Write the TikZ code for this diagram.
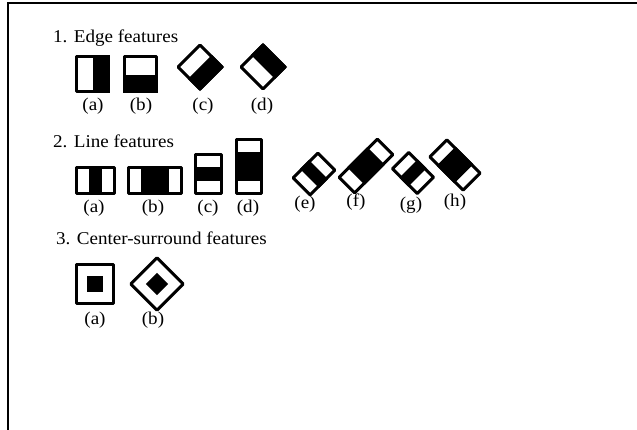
\documentclass[tikz,border=0pt]{standalone}
\usepackage{fontspec}
\setmainfont{Liberation Serif}[FakeStretch=1.06]
\newcommand\hfeat[6]{%
 \begin{scope}[shift={(#1,#2)},rotate=#3]
  \pgfmathsetmacro\hw{#4-1.5}\pgfmathsetmacro\hh{#5-1.5}
  \fill[white] (-#4,-#5) rectangle (#4,#5);
  #6
  \draw[outline] (-\hw,-\hh) rectangle (\hw,\hh);
 \end{scope}}
\begin{document}
\begin{tikzpicture}[x=1pt,y=-1pt,
  title/.style={anchor=base west,inner sep=0pt,font=\fontsize{18}{21}\selectfont},
  lab/.style={anchor=base,inner sep=0pt,font=\fontsize{18}{21}\selectfont},
  outline/.style={draw=black,line width=3pt,line join=round},
]
\useasboundingbox (0,0) rectangle (637,430);
\draw[line width=2.4pt] (7.8,430) -- (7.8,2.8) -- (637,2.8);

% titles
\node[title] (t1) at (53,43) {1. Edge features};
\node[title] (t2) at (53,148) {2. Line features};
\node[title] (t3) at (56,245) {3. Center-surround features};

% edge features
\hfeat{92.5}{74}{0}{17.5}{19}{\fill (0,-19) rectangle (17.5,19);}
\hfeat{140.5}{74}{0}{17.5}{19}{\fill (-17.5,1) rectangle (17.5,19);}
\hfeat{200}{67}{45}{17}{17}{\fill (-17,0) rectangle (17,17);}
\hfeat{263}{67}{45}{17}{17}{\fill (0,-17) rectangle (17,17);}
\node[lab] (ea) at (93,111) {(a)};
\node[lab] (eb) at (141,111) {(b)};
\node[lab] (ec) at (203,111) {(c)};
\node[lab] (ed) at (262,111) {(d)};

% line features
\hfeat{95.5}{180.5}{0}{20.5}{14.5}{\fill (-6.83,-14.5) rectangle (6.83,14.5);}
\hfeat{155}{180.5}{0}{28}{14.5}{\fill (-14,-14.5) rectangle (14,14.5);}
\hfeat{208.5}{174}{0}{14.5}{21}{\fill (-14.5,-7) rectangle (14.5,7);}
\hfeat{249}{166.5}{0}{14}{28.5}{\fill (-14,-14.25) rectangle (14,14.25);}
\hfeat{314}{174}{45}{19}{13.5}{\fill (-6.33,-13.5) rectangle (6.33,13.5);}
\hfeat{366}{166}{45}{28.5}{12.5}{\fill (-14.25,-12.5) rectangle (14.25,12.5);}
\hfeat{413}{173}{45}{13}{19}{\fill (-13,-6.33) rectangle (13,6.33);}
\hfeat{455}{165}{45}{13.5}{25}{\fill (-13.5,-12.5) rectangle (13.5,12.5);}
\node[lab] (la) at (94,213) {(a)};
\node[lab] (lb) at (153,213) {(b)};
\node[lab] (lc) at (208,213) {(c)};
\node[lab] (ld) at (248,213) {(d)};
\node[lab] (le) at (305,209) {(e)};
\node[lab] (lf) at (356,207) {(f)};
\node[lab] (lg) at (411,210) {(g)};
\node[lab] (lh) at (455,207) {(h)};

% center-surround features
\hfeat{95}{284}{0}{20}{21}{\fill (-8,-8) rectangle (8,8);}
\hfeat{157}{284}{45}{20}{20}{\fill (-7.8,-7.8) rectangle (7.8,7.8);}
\node[lab] (ca) at (95,324) {(a)};
\node[lab] (cb) at (153,324) {(b)};
\end{tikzpicture}
\end{document}
